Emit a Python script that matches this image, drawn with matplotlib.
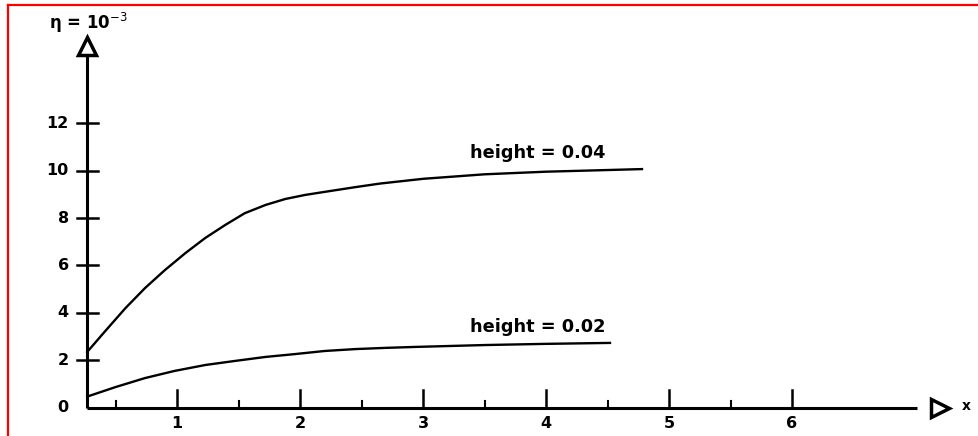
import numpy as np
import matplotlib
matplotlib.use("Agg")
import matplotlib.pyplot as plt
from matplotlib.lines import Line2D

# curve for height = 0.04
x_h04 = [0.27, 0.41, 0.58, 0.74, 0.90, 1.07, 1.23, 1.39, 1.55, 1.72, 1.88,
         2.04, 2.20, 2.45, 2.65, 3.0, 3.5, 4.0, 4.5, 4.78]
y_h04 = [2.36, 3.2, 4.2, 5.05, 5.8, 6.53, 7.16, 7.7, 8.2, 8.55, 8.8,
         8.97, 9.1, 9.3, 9.45, 9.65, 9.84, 9.95, 10.02, 10.06]

# curve for height = 0.02
x_h02 = [0.27, 0.5, 0.74, 0.98, 1.23, 1.47, 1.72, 1.96, 2.2, 2.45, 2.69,
         2.93, 3.5, 4.0, 4.52]
y_h02 = [0.48, 0.88, 1.26, 1.56, 1.81, 1.98, 2.15, 2.27, 2.4, 2.48, 2.53,
         2.57, 2.65, 2.7, 2.74]

x_major = [1, 2, 3, 4, 5, 6]
x_minor = [0.5, 1.5, 2.5, 3.5, 4.5, 5.5]
y_major = [2, 4, 6, 8, 10, 12]
y_labels = ["0", "2", "4", "6", "8", "10", "12"]

x0 = 0.27  # where the vertical axis sits

fig = plt.figure(figsize=(9.79, 4.36), dpi=100)
ax = fig.add_axes([0, 0, 1, 1])
ax.set_xlim(-0.439, 7.52)
ax.set_ylim(-1.18, 17.18)
ax.axis("off")

lw_axis = 2.2
# axes lines
ax.plot([x0, 7.02], [0, 0], color="black", lw=lw_axis, solid_capstyle="butt")
ax.plot([x0, x0], [0, 14.9], color="black", lw=lw_axis, solid_capstyle="butt")

# open arrow heads
ax.plot([7.2], [0], marker=">", ms=13, mfc="white", mec="black", mew=2.5)
ax.plot([x0], [15.25], marker="^", ms=13, mfc="white", mec="black", mew=2.5)

# x ticks (pointing up)
for xt in x_major:
    ax.plot([xt, xt], [0, 0.75], color="black", lw=1.8)
    ax.text(xt, -0.65, str(xt), ha="center", va="center", fontsize=11.5,
            fontweight="bold")
for xt in x_minor:
    ax.plot([xt, xt], [0, 0.28], color="black", lw=1.5)

# y ticks (crossing the axis)
for yt in y_major:
    ax.plot([x0 - 0.08, x0 + 0.09], [yt, yt], color="black", lw=1.8)
for yt, lab in zip([0] + y_major, y_labels):
    ax.text(0.12, yt, lab, ha="right", va="center", fontsize=11.5,
            fontweight="bold")

# curves
ax.plot(x_h04, y_h04, color="black", lw=1.7)
ax.plot(x_h02, y_h02, color="black", lw=1.7)

ax.text(3.38, 10.72, "height = 0.04", ha="left", va="center", fontsize=12.8,
        fontweight="bold")
ax.text(3.38, 3.42, "height = 0.02", ha="left", va="center", fontsize=12.8,
        fontweight="bold")

ax.text(7.42, 0.1, "x", ha="center", va="center", fontsize=10, fontweight="bold")
ax.text(0.28, 16.2, "η = 10$^{-3}$", ha="center", va="center", fontsize=12,
        fontweight="bold")

# red frame on top and left edges
fig.add_artist(Line2D([8 / 979, 1], [1 - 5.5 / 436, 1 - 5.5 / 436],
                      transform=fig.transFigure, color="red", lw=1.6))
fig.add_artist(Line2D([8 / 979, 8 / 979], [0, 1 - 5.5 / 436],
                      transform=fig.transFigure, color="red", lw=1.6))

fig.savefig("out.png", dpi=100)
